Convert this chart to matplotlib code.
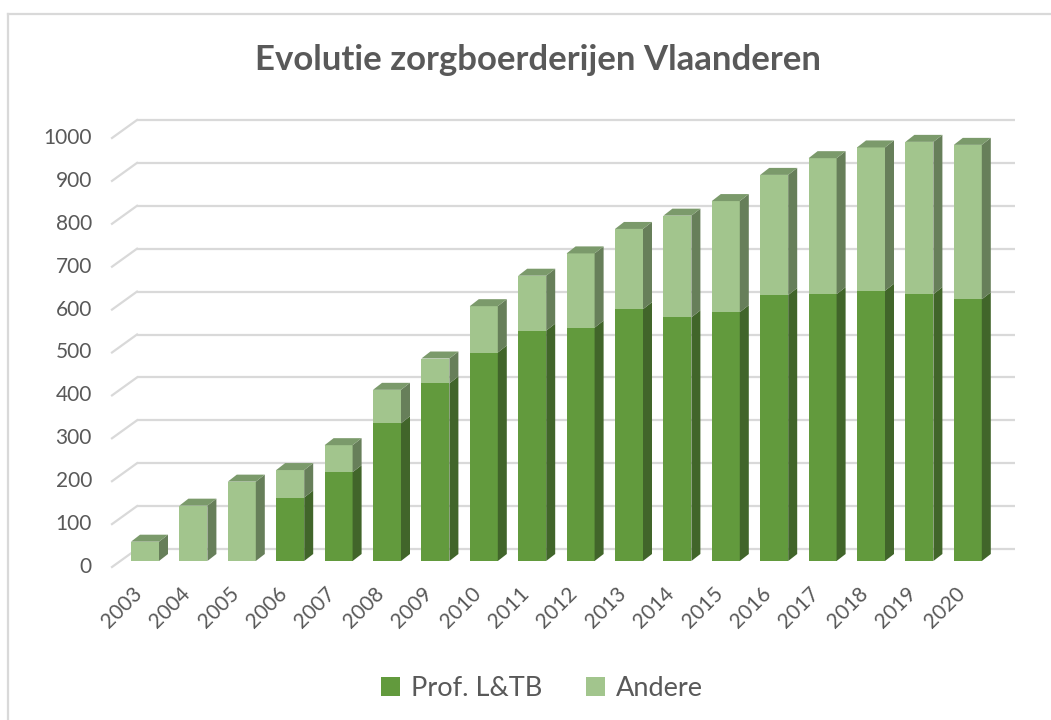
import numpy as np
import matplotlib
matplotlib.use("Agg")
import matplotlib.pyplot as plt
from matplotlib.patches import Polygon, Rectangle
from matplotlib.lines import Line2D

years = [str(y) for y in range(2003, 2021)]
prof = [0, 0, 0, 148, 207, 321, 414, 486, 537, 544, 587, 568, 580, 620, 622, 630, 622, 610]
andere = [45, 129, 185, 64, 63, 78, 58, 108, 128, 173, 187, 237, 259, 280, 317, 334, 355, 360]
yticks = list(range(0, 1001, 100))

title = "Evolutie zorgboerderijen Vlaanderen"
labels = ["Prof. L&TB", "Andere"]

# colours: front, side, top
dark = ("#629A3D", "#41652A", "#4E7A32")
light = ("#A2C58D", "#677F5A", "#7B9A6B")
grid_c = "#D9D9D9"
text_c = "#595959"

plt.rcParams['font.family'] = ['Lato', 'DejaVu Sans']

W, H, DPI = 1051, 720, 100
fig = plt.figure(figsize=(W / DPI, H / DPI), dpi=DPI)

# pixel layout of the pseudo-3D plot (image coords, y down)
x_first, x_step = 145, 48.4      # bar centre of first year, spacing
y_base, px_per_val = 561, 0.429  # bar plane zero line, pixels per unit
bar_w = 28 / x_step
depth_dx, depth_dy = 9 / x_step, 7 / px_per_val
back_dx, back_dy = 17 / x_step, 12 / px_per_val
front_dx, front_dy = -8 / x_step, -6 / px_per_val

ax_l, ax_r, ax_t, ax_b = 60, 1045, 100, 585
ax = fig.add_axes([ax_l / W, (H - ax_b) / H, (ax_r - ax_l) / W, (ax_b - ax_t) / H])
ax.set_xlim((ax_l - x_first) / x_step, (ax_r - x_first) / x_step)
ax.set_ylim((y_base - ax_b) / px_per_val, (y_base - ax_t) / px_per_val)
ax.axis('off')


def px_x(px):
    return (px - x_first) / x_step


# back wall gridlines + floor diagonals
gx0, gx1 = px_x(137) - back_dx, px_x(1015) - back_dx
for v in yticks:
    ax.plot([gx0 + back_dx, gx1 + back_dx], [v + back_dy, v + back_dy],
            color=grid_c, lw=1.6, zorder=1, solid_capstyle='butt')
    ax.plot([gx0 + front_dx, gx0 + back_dx], [v + front_dy, v + back_dy],
            color=grid_c, lw=1.6, zorder=1)
    ax.text(px_x(92), v + front_dy, str(v), ha='right', va='center',
            fontsize=15, color=text_c)


def draw_segment(i, y0, y1, cols, top):
    if y1 <= y0:
        return
    xl = i - bar_w / 2
    xr = i + bar_w / 2
    ax.add_patch(Rectangle((xl, y0), bar_w, y1 - y0, facecolor=cols[0],
                           edgecolor='none', zorder=3))
    ax.add_patch(Polygon([(xr, y0), (xr, y1), (xr + depth_dx, y1 + depth_dy),
                          (xr + depth_dx, y0 + depth_dy)],
                         facecolor=cols[1], edgecolor='none', zorder=3))
    if top:
        ax.add_patch(Polygon([(xl, y1), (xr, y1), (xr + depth_dx, y1 + depth_dy),
                              (xl + depth_dx, y1 + depth_dy)],
                             facecolor=cols[2], edgecolor='none', zorder=3))


x = np.arange(len(years))
for i in x:
    p, a = prof[i], andere[i]
    draw_segment(i, 0, p, dark, a == 0)
    draw_segment(i, p, p + a, light, True)
    ax.text(i + 0.02, (y_base - 583) / px_per_val, years[i], rotation=45,
            ha='right', va='top', fontsize=15, color=text_c)

# title
fig.text(538 / W, 1 - 60 / H, title, ha='center', va='center',
         fontsize=25, fontweight='bold', color=text_c)

# legend
handles = [Rectangle((0, 0), 1, 1, facecolor=dark[0]),
           Rectangle((0, 0), 1, 1, facecolor=light[0])]
fig.legend(handles, labels, loc='center', bbox_to_anchor=(542 / W, 1 - 688 / H),
           ncol=2, frameon=False, fontsize=19.5, labelcolor=text_c,
           handlelength=0.7, handleheight=0.7, handletextpad=0.4,
           columnspacing=1.6)

# chart border (cropped on right and bottom)
fig.add_artist(Line2D([8 / W, 1], [1 - 14 / H, 1 - 14 / H], color=grid_c, lw=1.6))
fig.add_artist(Line2D([8 / W, 8 / W], [0, 1 - 14 / H], color=grid_c, lw=1.6))

fig.savefig("out.png", dpi=DPI, facecolor='white')
